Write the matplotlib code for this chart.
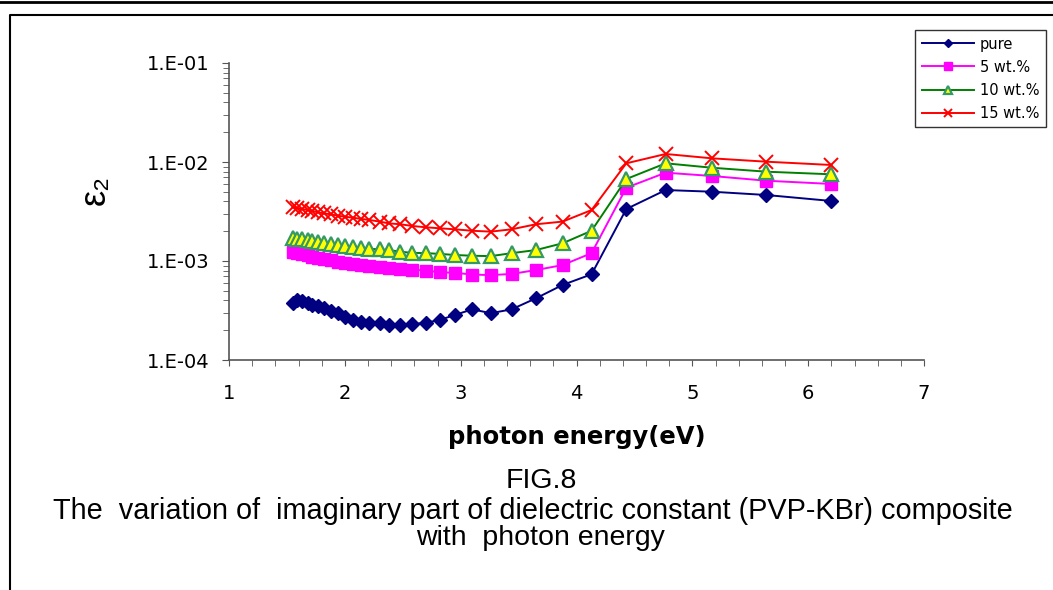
import matplotlib
matplotlib.use("Agg")
import matplotlib.pyplot as plt
from matplotlib.lines import Line2D
from matplotlib.ticker import FixedLocator, NullFormatter

plt.rcParams['font.family'] = ['Liberation Sans', 'DejaVu Sans']

# photon energy (eV), lambda 800 -> 200 nm in 20 nm steps
energy = [1.55, 1.59, 1.63, 1.68, 1.72, 1.77, 1.82, 1.88, 1.94, 2.00, 2.07,
          2.14, 2.21, 2.30, 2.38, 2.48, 2.58, 2.70, 2.82, 2.95, 3.10, 3.26,
          3.44, 3.65, 3.88, 4.13, 4.43, 4.77, 5.17, 5.64, 6.20]

pure = [3.74e-4, 4.04e-4, 3.97e-4, 3.79e-4, 3.59e-4, 3.51e-4, 3.35e-4, 3.15e-4,
        2.98e-4, 2.74e-4, 2.54e-4, 2.44e-4, 2.38e-4, 2.35e-4, 2.26e-4, 2.26e-4,
        2.30e-4, 2.38e-4, 2.54e-4, 2.85e-4, 3.25e-4, 2.97e-4, 3.25e-4, 4.20e-4,
        5.73e-4, 7.34e-4, 3.35e-3, 5.21e-3, 5.01e-3, 4.64e-3, 4.04e-3]

wt5 = [1.24e-3, 1.20e-3, 1.18e-3, 1.14e-3, 1.10e-3, 1.08e-3, 1.05e-3, 1.02e-3,
       0.98e-3, 0.95e-3, 0.93e-3, 0.91e-3, 0.88e-3, 0.86e-3, 0.84e-3, 0.83e-3,
       0.82e-3, 0.80e-3, 0.77e-3, 0.76e-3, 0.73e-3, 0.72e-3, 0.74e-3, 0.81e-3,
       0.91e-3, 1.20e-3, 5.50e-3, 7.80e-3, 7.22e-3, 6.47e-3, 6.00e-3]

wt10 = [1.72e-3, 1.68e-3, 1.66e-3, 1.62e-3, 1.58e-3, 1.56e-3, 1.51e-3, 1.48e-3,
        1.44e-3, 1.42e-3, 1.40e-3, 1.36e-3, 1.33e-3, 1.31e-3, 1.29e-3, 1.24e-3,
        1.21e-3, 1.20e-3, 1.18e-3, 1.15e-3, 1.13e-3, 1.12e-3, 1.20e-3, 1.29e-3,
        1.51e-3, 2.02e-3, 6.73e-3, 9.70e-3, 8.75e-3, 7.98e-3, 7.51e-3]

wt15 = [3.49e-3, 3.41e-3, 3.35e-3, 3.27e-3, 3.20e-3, 3.10e-3, 3.03e-3, 2.96e-3,
        2.87e-3, 2.80e-3, 2.74e-3, 2.66e-3, 2.60e-3, 2.50e-3, 2.40e-3, 2.35e-3,
        2.26e-3, 2.19e-3, 2.14e-3, 2.09e-3, 2.02e-3, 1.98e-3, 2.09e-3, 2.35e-3,
        2.50e-3, 3.27e-3, 9.70e-3, 1.205e-2, 1.089e-2, 1.007e-2, 9.33e-3]

labels = ['pure', '5 wt.%', '10 wt.%', '15 wt.%']
xticks = [1, 2, 3, 4, 5, 6, 7]
yticks = [1e-4, 1e-3, 1e-2, 1e-1]
ytick_labels = ['1.E-04', '1.E-03', '1.E-02', '1.E-01']

W, H = 1053, 590
fig = plt.figure(figsize=(W / 100, H / 100), dpi=100)
ax = fig.add_axes([229 / W, 1 - 360 / H, 695 / W, 297 / H])

ax.plot(energy, pure, color='#000080', lw=1.4, marker='D', ms=7.5,
        mfc='#000080', mec='#000080', label=labels[0])
ax.plot(energy, wt5, color='#FF00FF', lw=1.4, marker='s', ms=8.5,
        mfc='#FF00FF', mec='#FF00FF', label=labels[1])
ax.plot(energy, wt10, color='#008000', lw=1.4, marker='^', ms=10,
        mfc='#FFFF00', mec='#339966', mew=1.6, label=labels[2])
ax.plot(energy, wt15, color='#FF0000', lw=1.4, marker='x', ms=10.5,
        mew=1.4, label=labels[3])

ax.set_yscale('log')
ax.set_xlim(1, 7)
ax.set_ylim(1e-4, 1e-1)
ax.set_xticks(xticks)
ax.set_xticklabels([str(t) for t in xticks])
ax.xaxis.set_minor_locator(FixedLocator([1 + 0.2 * i for i in range(31)]))
ax.set_yticks(yticks)
ax.set_yticklabels(ytick_labels)
ax.yaxis.set_minor_formatter(NullFormatter())

for s in ['top', 'right']:
    ax.spines[s].set_visible(False)
for s in ['left', 'bottom']:
    ax.spines[s].set_color('#555555')
    ax.spines[s].set_linewidth(1.2)
ax.tick_params(axis='both', which='both', direction='out', color='#555555',
               labelfontfamily='DejaVu Sans')
ax.tick_params(axis='x', which='major', length=4, pad=13, labelsize=14)
ax.tick_params(axis='x', which='minor', length=4)
ax.tick_params(axis='y', which='major', length=5, pad=9, labelsize=14)
ax.tick_params(axis='y', which='minor', length=4)

leg = fig.legend(loc='upper left', bbox_to_anchor=(915 / W, 1 - 30 / H),
                 prop={'family': 'DejaVu Sans', 'size': 10.5},
                 frameon=True, fancybox=False, edgecolor='black',
                 markerscale=0.6, handlelength=3.6, borderpad=0.45,
                 labelspacing=0.55, handletextpad=0.4, borderaxespad=0)
leg.get_frame().set_linewidth(1.0)

fig.text(577 / W, 1 - 437 / H, 'photon energy(eV)', ha='center', va='center',
         fontsize=17.5, fontweight='bold', family='DejaVu Sans')
fig.text(95 / W, 1 - 190 / H, 'ε₂', ha='center', va='center',
         fontsize=26, rotation=90)
fig.text(541 / W, 1 - 481 / H, 'FIG.8', ha='center', va='center', fontsize=20.5)
fig.text(533 / W, 1 - 511 / H,
         'The  variation of  imaginary part of dielectric constant (PVP-KBr) composite',
         ha='center', va='center', fontsize=20.8)
fig.text(540 / W, 1 - 538 / H, 'with  photon energy', ha='center', va='center',
         fontsize=20.5)

# page frame lines
fig.add_artist(Line2D([0, 1], [1 - 2 / H, 1 - 2 / H], color='black', lw=2))
fig.add_artist(Line2D([10 / W, 10 / W, 1], [0, 1 - 15 / H, 1 - 15 / H],
                      color='black', lw=1.5))

fig.savefig('out.png', dpi=100)
